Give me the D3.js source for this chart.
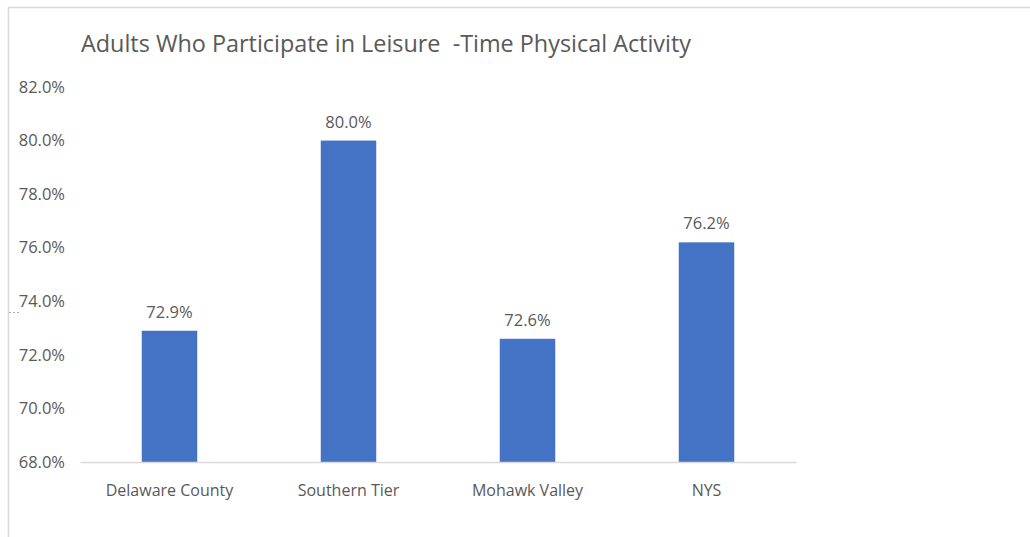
<!DOCTYPE html>
<html>
<head>
<meta charset="utf-8">
<script src="https://cdn.jsdelivr.net/npm/d3@7"></script>
<style>
  html, body { margin: 0; padding: 0; background: #fff; }
  svg { display: block; font-family: "Open Sans", "Liberation Sans", sans-serif; }
</style>
</head>
<body>
<svg id="chart" width="1030" height="537"></svg>
<script>
// Share of adults reporting leisure-time physical activity, by region
const categories = ["Delaware County", "Southern Tier", "Mohawk Valley", "NYS"];
const values = [72.9, 80.0, 72.6, 76.2];
const yTicks = [68, 70, 72, 74, 76, 78, 80, 82];
const title = "Adults Who Participate in Leisure  -Time Physical Activity";

const svg = d3.select("#chart");
const textColor = "#595959";
const fontStack = "Open Sans, Liberation Sans, sans-serif";

// Chart frame (top and left edges visible)
svg.append("line").attr("x1", 8).attr("x2", 1030).attr("y1", 7.5).attr("y2", 7.5)
  .attr("stroke", "#d9d9d9").attr("stroke-width", 1.5);
svg.append("line").attr("x1", 8.5).attr("x2", 8.5).attr("y1", 7).attr("y2", 537)
  .attr("stroke", "#d9d9d9").attr("stroke-width", 1.5);
// small stray dash at the left edge
svg.append("line").attr("x1", 9).attr("x2", 19).attr("y1", 312.5).attr("y2", 312.5)
  .attr("stroke", "#b0b0b0").attr("stroke-width", 1).attr("stroke-dasharray", "2,2");

const x = d3.scaleBand().domain(categories).range([80, 796]).paddingInner(0.69).paddingOuter(0.345);
const y = d3.scaleLinear().domain([68, 82]).range([462, 87]);

// Title
svg.append("text")
  .attr("x", 81).attr("y", 52)
  .attr("fill", textColor)
  .attr("font-size", 23)
  .attr("textLength", 610).attr("lengthAdjust", "spacingAndGlyphs")
  .style("white-space", "pre")
  .text(title);

// Y axis labels (no axis line, no gridlines)
const yAxis = d3.axisLeft(y).tickValues(yTicks).tickSize(0).tickPadding(0)
  .tickFormat(d => d.toFixed(1) + "%");
const gy = svg.append("g").attr("transform", "translate(65,0)").call(yAxis);
gy.select(".domain").remove();
gy.selectAll("text").attr("fill", textColor).attr("font-size", 16.5)
  .attr("font-family", fontStack);

// Bars
svg.append("g").selectAll("rect").data(values).join("rect")
  .attr("x", (d, i) => x(categories[i]))
  .attr("width", x.bandwidth())
  .attr("y", d => y(d))
  .attr("height", d => y(68) - y(d))
  .attr("fill", "#4472c4");

// Value labels
svg.append("g").selectAll("text").data(values).join("text")
  .attr("x", (d, i) => x(categories[i]) + x.bandwidth() / 2)
  .attr("y", d => y(d) - 13)
  .attr("text-anchor", "middle")
  .attr("fill", textColor).attr("font-size", 16.5)
  .text(d => d.toFixed(1) + "%");

// X axis
const xAxis = d3.axisBottom(x).tickSize(0).tickPadding(22.5);
const gx = svg.append("g").attr("transform", "translate(0,462)").call(xAxis);
gx.select(".domain").attr("stroke", "#d9d9d9").attr("stroke-width", 1.5);
gx.selectAll("text").attr("fill", textColor).attr("font-size", 16)
  .attr("font-family", fontStack);
</script>
</body>
</html>
